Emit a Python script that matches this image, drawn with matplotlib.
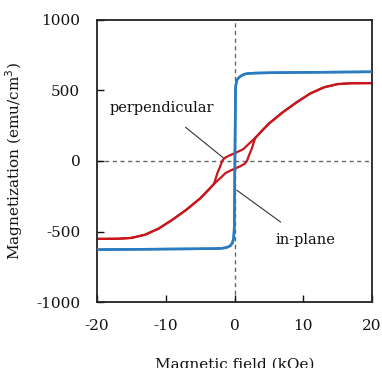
import matplotlib
matplotlib.use('Agg')
import matplotlib.pyplot as plt

plt.rcParams['font.family'] = ['DejaVu Serif']

# blue loop (square), field in kOe, magnetization in emu/cm3
blue_down_h = [20, 15, 10, 5, 3, 2, 1.5, 1.0, 0.6, 0.3, 0.15, 0.1, 0.05, 0.0, -0.05, -0.1, -0.3, -0.6, -1.0, -1.5, -2, -3, -5, -10, -15, -20]
blue_down_m = [632, 630, 628, 625, 623, 620, 616, 605, 590, 570, 520, 300, 0, -300, -480, -545, -580, -600, -610, -616, -619, -621, -622, -624, -626, -628]
blue_up_h = [-20, -15, -10, -5, -3, -2, -1.5, -1.0, -0.6, -0.3, -0.15, -0.05, 0.0, 0.05, 0.1, 0.15, 0.3, 0.6, 1.0, 1.5, 2, 3, 5, 10, 15, 20]
blue_up_m = [-628, -626, -624, -622, -621, -619, -616, -610, -600, -580, -545, -480, -300, 0, 300, 520, 570, 590, 605, 616, 620, 623, 625, 628, 630, 632]

# red loop (slanted, small opening near zero)
red_down_h = [20, 17, 15, 13, 11, 9, 7, 5, 4, 3, 2, 1.3, 0.6, 0, -0.8, -1.5, -1.8, -2.1, -2.5, -3, -4, -5, -7, -9, -11, -13, -15, -17, -20]
red_down_m = [552, 551, 545, 522, 478, 415, 345, 265, 215, 163, 118, 85, 68, 55, 38, 19, 0, -40, -87, -163, -215, -265, -345, -415, -478, -522, -545, -551, -552]
red_up_h = [-20, -17, -15, -13, -11, -9, -7, -5, -4, -3, -2, -1.3, -0.6, 0, 0.8, 1.5, 1.8, 2.1, 2.5, 3, 4, 5, 7, 9, 11, 13, 15, 17, 20]
red_up_m = [-552, -551, -545, -522, -478, -415, -345, -265, -215, -163, -118, -85, -68, -55, -38, -19, 0, 40, 87, 163, 215, 265, 345, 415, 478, 522, 545, 551, 552]

blue = '#2a7bbf'
red = '#c8161d'

fig = plt.figure(figsize=(3.82, 3.68), dpi=100)
ax = fig.add_axes([0.254, 0.179, 0.72, 0.767])

ax.axhline(0, color='#666666', lw=1.0, ls=(0, (3, 2.5)), zorder=1)
ax.axvline(0, color='#666666', lw=1.0, ls=(0, (3, 2.5)), zorder=1)

ax.plot(blue_down_h, blue_down_m, color=blue, lw=1.8, zorder=3)
ax.plot(blue_up_h, blue_up_m, color=blue, lw=1.8, zorder=3)
ax.plot(red_down_h, red_down_m, color=red, lw=1.6, zorder=2)
ax.plot(red_up_h, red_up_m, color=red, lw=1.6, zorder=2)

ax.set_xlim(-20, 20)
ax.set_ylim(-1000, 1000)
ax.set_xticks([-20, -10, 0, 10, 20])
ax.set_xticklabels(['-20', '-10', '0', '10', '20'])
ax.set_yticks([-1000, -500, 0, 500, 1000])
ax.set_yticklabels(['-1000', '-500', '0', '500', '1000'])
ax.tick_params(direction='in', length=5, width=1, labelsize=11, colors='#111111')
ax.tick_params(axis='x', pad=12)
ax.tick_params(axis='y', pad=12)
for s in ax.spines.values():
    s.set_linewidth(1.3)
    s.set_color('#222222')

ax.set_xlabel('Magnetic field (kOe)', fontsize=11, labelpad=18, color='#111111')
ax.set_ylabel('Magnetization (emu/cm$^3$)', fontsize=11, labelpad=8, color='#111111')

ax.annotate('perpendicular', xy=(-1.65, 23), xytext=(-10.6, 376),
            fontsize=10.5, ha='center', va='center', color='#111111',
            arrowprops=dict(arrowstyle='-', color='#333333', lw=0.8,
                            shrinkA=11, shrinkB=0))
ax.annotate('in-plane', xy=(0.3, -206), xytext=(10.3, -560),
            fontsize=10.5, ha='center', va='center', color='#111111',
            arrowprops=dict(arrowstyle='-', color='#333333', lw=0.8,
                            shrinkA=10, shrinkB=0))

fig.savefig('out.png', dpi=100)
